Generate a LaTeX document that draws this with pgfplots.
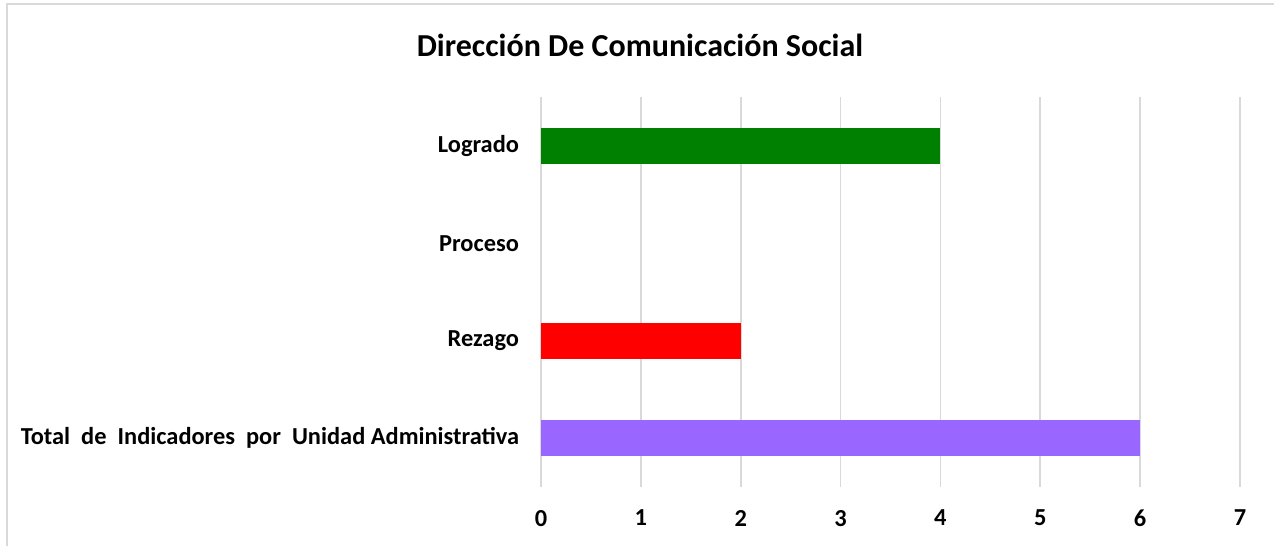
\documentclass[border=0pt]{standalone}
\usepackage{fontspec}
\setmainfont{Carlito}
\usepackage{pgfplots}
\pgfplotsset{compat=1.18}
\definecolor{gridgray}{HTML}{D9D9D9}
\definecolor{logrado}{HTML}{008000}
\definecolor{rezago}{HTML}{FF0000}
\definecolor{total}{HTML}{9966FF}
\begin{document}
\begin{tikzpicture}
\path[use as bounding box] (0,0) rectangle (637bp,273bp);
\fill[white] (0,0) rectangle (637bp,273bp);
\draw[gridgray, line width=0.8bp] (3.5bp,-5bp) -- (3.5bp,271bp) -- (645bp,271bp);
\node[font=\fontsize{16bp}{19bp}\selectfont\bfseries] at (320bp,250.5bp) {Dirección De Comunicación Social};
\begin{axis}[
  at={(270.5bp,29.5bp)}, anchor=south west,
  scale only axis, width=349.5bp, height=195bp,
  xmin=0, xmax=7, ymin=-0.5, ymax=3.5,
  axis line style={draw=none},
  xtick={0,1,2,3,4,5,6,7},
  ytick={0,1,2,3},
  yticklabels={{Total\ \ de\ \ Indicadores\ \ por\ \ Unidad Administrativa},Rezago,Proceso,Logrado},
  major tick length=0pt,
  xmajorgrids, grid style={gridgray, line width=0.8bp},
  /pgf/number format/assume math mode=true,
  tick label style={font=\fontsize{12.2bp}{14bp}\selectfont\bfseries},
  xticklabel style={yshift=-8bp},
  yticklabel style={xshift=-7.5bp},
  xbar, bar width=0.37, bar shift=0pt,
  clip=false,
]
\addplot[fill=total, draw=none] coordinates {(6,0)};
\addplot[fill=rezago, draw=none] coordinates {(2,1)};
\addplot[fill=none, draw=none] coordinates {(0,2)};
\addplot[fill=logrado, draw=none] coordinates {(4,3)};
\end{axis}
\end{tikzpicture}
\end{document}
